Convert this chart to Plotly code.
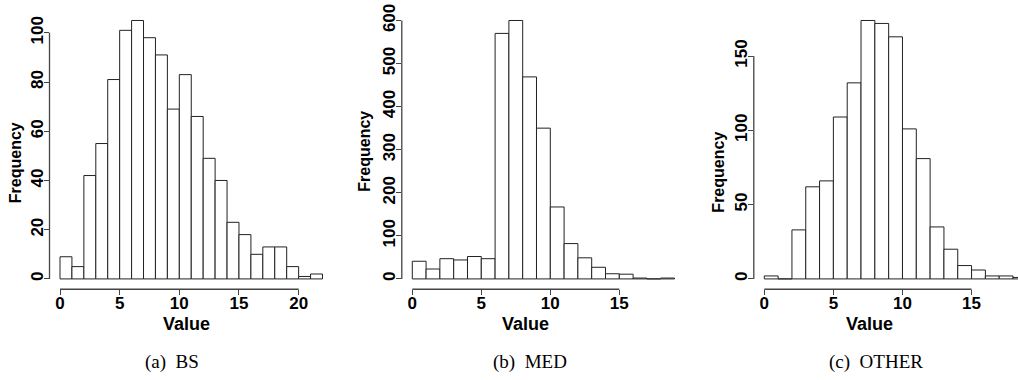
import plotly.graph_objects as go

W, H = 1018, 380

# ---------------- data ----------------
bs_edges = list(range(0, 23))
bs_counts = [9, 5, 42, 55, 81, 101, 105, 98, 91, 69, 83, 66, 49, 40, 23, 18, 10, 13, 13, 5, 1, 2]

med_edges = list(range(0, 20))
med_counts = [41, 23, 47, 44, 52, 47, 570, 600, 469, 350, 167, 82, 49, 27, 12, 11, 2, 0, 2]

other_edges = list(range(0, 20))
other_counts = [2, 0, 33, 62, 66, 109, 132, 174, 172, 163, 101, 81, 35, 20, 9, 6, 2, 2, 1]

bs_xticks = [0, 5, 10, 15, 20]
bs_yticks = [0, 20, 40, 60, 80, 100]
med_xticks = [0, 5, 10, 15]
med_yticks = [0, 100, 200, 300, 400, 500, 600]
other_xticks = [0, 5, 10, 15]
other_yticks = [0, 50, 100, 150]

captions = ["(a)\u00a0 BS", "(b)\u00a0 MED", "(c)\u00a0 OTHER"]
x_title = "Value"
y_title = "Frequency"

# ---------------- layout helpers ----------------
SANS = "Liberation Sans"
SERIF = "Liberation Serif"
AXC = "#444444"

panels = [
    dict(edges=bs_edges, counts=bs_counts, xt=bs_xticks, yt=bs_yticks,
         xpx=(49.5, 333.0), xr=[-0.88, 22.88], yr=[-4.2, 109.2],
         ytitle=(15.7, 159), xtitle=(186, 323.5), cap=(172, 362)),
    dict(edges=med_edges, counts=med_counts, xt=med_xticks, yt=med_yticks,
         xpx=(401.8, 685.0), xr=[-0.76, 19.76], yr=[-24, 624],
         ytitle=(365, 148), xtitle=(525.5, 323.5), cap=(530, 362)),
    dict(edges=other_edges, counts=other_counts, xt=other_xticks, yt=other_yticks,
         xpx=(753.8, 1018.0), xr=[-0.76, 18.36], yr=[-6.96, 180.96],
         ytitle=(718.3, 169), xtitle=(869.5, 323.5), cap=(876, 362)),
]

ytop, ybot = 4.2, 287.8

fig = go.Figure()
layout = dict(
    width=W, height=H, margin=dict(l=0, r=0, t=0, b=0),
    paper_bgcolor="white", plot_bgcolor="white", showlegend=False,
    shapes=[], annotations=[],
)

for i, p in enumerate(panels, start=1):
    xn = "x" if i == 1 else f"x{i}"
    yn = "y" if i == 1 else f"y{i}"
    edges, counts = p["edges"], p["counts"]
    centers = [(edges[k] + edges[k + 1]) / 2 for k in range(len(counts))]
    widths = [edges[k + 1] - edges[k] for k in range(len(counts))]
    fig.add_trace(go.Bar(
        x=centers, y=counts, width=widths, xaxis=xn, yaxis=yn,
        marker=dict(color="white", line=dict(color="#222222", width=1)),
        hoverinfo="x+y",
    ))
    axkey = "xaxis" if i == 1 else f"xaxis{i}"
    aykey = "yaxis" if i == 1 else f"yaxis{i}"
    layout[axkey] = dict(
        domain=[p["xpx"][0] / W, p["xpx"][1] / W], range=p["xr"], anchor=yn,
        showgrid=False, zeroline=False, showline=False,
        tickmode="array", tickvals=p["xt"], ticktext=[str(v) for v in p["xt"]],
        ticks="outside", ticklen=5, tickwidth=1, tickcolor=AXC,
        ticklabelstandoff=-7, ticklabeloverflow="allow",
        tickfont=dict(family=SANS, size=17, color="black", weight="bold"),
    )
    layout[aykey] = dict(
        domain=[1 - ybot / H, 1 - ytop / H], range=p["yr"], anchor=xn,
        showgrid=False, zeroline=False, showline=False,
        tickmode="array", tickvals=p["yt"], ticktext=[str(v) for v in p["yt"]],
        ticks="outside", ticklen=5, tickwidth=1, tickcolor=AXC, tickangle=-90,
        ticklabelstandoff=-6, ticklabeloverflow="allow",
        tickfont=dict(family=SANS, size=17, color="black", weight="bold"),
    )
    # R-style axis lines spanning only the tick range
    layout["shapes"].append(dict(type="line", xref=xn, yref=f"{yn} domain",
                                 x0=p["xt"][0], x1=p["xt"][-1], y0=0, y1=0,
                                 line=dict(color=AXC, width=1.3)))
    layout["shapes"].append(dict(type="line", xref=f"{xn} domain", yref=yn,
                                 x0=0, x1=0, y0=p["yt"][0], y1=p["yt"][-1],
                                 line=dict(color=AXC, width=1.3)))
    # titles
    layout["annotations"].append(dict(
        text=y_title, xref="paper", yref="paper", showarrow=False,
        x=p["ytitle"][0] / W, y=1 - p["ytitle"][1] / H, textangle=-90,
        xanchor="center", yanchor="middle",
        font=dict(family=SANS, size=16, color="black", weight="bold")))
    layout["annotations"].append(dict(
        text=x_title, xref="paper", yref="paper", showarrow=False,
        x=p["xtitle"][0] / W, y=1 - p["xtitle"][1] / H,
        xanchor="center", yanchor="middle",
        font=dict(family=SANS, size=18, color="black", weight="bold")))
    layout["annotations"].append(dict(
        text=captions[i - 1], xref="paper", yref="paper", showarrow=False,
        x=p["cap"][0] / W, y=1 - p["cap"][1] / H,
        xanchor="center", yanchor="middle",
        font=dict(family=SERIF, size=19, color="black")))

fig.update_layout(**layout)
fig.write_html("out.html")
